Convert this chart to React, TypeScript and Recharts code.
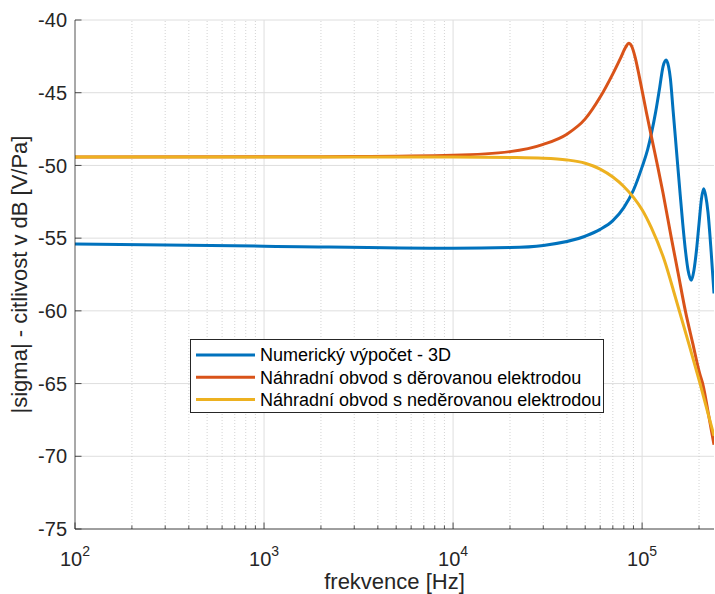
import { CartesianGrid, Legend, Line, LineChart, ReferenceLine, XAxis, YAxis } from 'recharts';

const FONT = '"Liberation Sans", Arial, Helvetica, sans-serif';
const AXIS = '#262626';
const GRID = '#dedede';
const MINOR_GRID = '#c8c8c8';

// osa x: frekvence [Hz], logaritmicky
const X_DOMAIN = [100, 240000];
const MAJOR_TICKS = [100, 1000, 10000, 100000];
const MINOR_TICKS = [
  200, 300, 400, 500, 600, 700, 800, 900,
  2000, 3000, 4000, 5000, 6000, 7000, 8000, 9000,
  20000, 30000, 40000, 50000, 60000, 70000, 80000, 90000,
  200000,
];
const Y_TICKS = [-75, -70, -65, -60, -55, -50, -45, -40];

// Numerický výpočet - 3D
const NUM_F = [
  100, 1000, 10000, 20000, 30000, 50000, 60000, 70000, 80000, 90000, 100000,
  107000, 112000, 118000, 124000, 129000, 134000, 138000, 141000, 146000, 152000,
  158000, 164000, 170000, 175000, 182000, 188000, 194000, 200000, 206000, 211500,
  217000, 223000, 232000, 240000,
];
const NUM_DB = [
  -55.41, -55.55, -55.7, -55.65, -55.5, -54.87, -54.4, -53.8, -52.9, -51.7, -50.1,
  -48.9, -47.8, -46.3, -44.6, -43.2, -42.75, -43.2, -44.0, -46.3, -49.0,
  -51.6, -54.0, -56.0, -57.2, -57.9, -57.2, -55.8, -54.0, -52.3, -51.6,
  -52.1, -53.2, -56.0, -58.8,
];

// Náhradní obvod s děrovanou elektrodou
const PERF_F = [
  100, 1000, 3000, 10000, 20000, 30000, 40000, 50000, 60000, 70000, 77000, 82000,
  85000, 88000, 92000, 97000, 105500, 114000, 121000, 129000, 142800, 155000,
  169300, 185000, 201500, 210000, 225000, 240000,
];
const PERF_DB = [
  -49.42, -49.41, -49.39, -49.3, -49.05, -48.55, -47.85, -46.8, -45.3, -43.7, -42.6, -41.85,
  -41.6, -41.8, -42.6, -44.0, -46.4, -48.5, -50.1, -51.9, -55.0, -57.4,
  -60.0, -62.2, -64.3, -65.1, -67.2, -69.2,
];

// Náhradní obvod s neděrovanou elektrodou
const SOLID_F = [
  100, 1000, 10000, 20000, 30000, 40000, 50000, 60000, 70000, 80000, 90000, 100000,
  112000, 131000, 151000, 177000, 202000, 240000,
];
const SOLID_DB = [
  -49.42, -49.42, -49.42, -49.45, -49.5, -49.62, -49.85, -50.25, -50.8, -51.45, -52.2, -53.05,
  -54.3, -56.5, -59.2, -62.3, -64.95, -68.6,
];

const toPoints = (f: number[], db: number[]) => f.map((v, i) => ({ f: v, db: db[i] }));

const SERIES = [
  { name: 'Numerický výpočet - 3D', color: '#0072BD', data: toPoints(NUM_F, NUM_DB) },
  { name: 'Náhradní obvod s děrovanou elektrodou', color: '#D95319', data: toPoints(PERF_F, PERF_DB) },
  { name: 'Náhradní obvod s neděrovanou elektrodou', color: '#EDB120', data: toPoints(SOLID_F, SOLID_DB) },
];

const isDecade = (v: number) => {
  const e = Math.log10(v);
  return Math.abs(e - Math.round(e)) < 1e-9;
};

function BottomTick({ x, y, payload }: any) {
  const v = payload.value as number;
  const major = isDecade(v);
  return (
    <g>
      <line x1={x} x2={x} y1={y} y2={y - (major ? 6.5 : 3.5)} stroke={AXIS} strokeWidth={0.8} />
      {major && (
        <text x={x} y={y + 37} textAnchor="middle" fontSize={20} fill={AXIS} fontFamily={FONT}>
          10<tspan dy={-10} fontSize={14}>{Math.round(Math.log10(v))}</tspan>
        </text>
      )}
    </g>
  );
}

function TopTick({ x, y, payload }: any) {
  const major = isDecade(payload.value);
  return <line x1={x} x2={x} y1={y} y2={y + (major ? 6.5 : 3.5)} stroke={AXIS} strokeWidth={0.8} />;
}

function LeftTick({ x, y, payload }: any) {
  return (
    <g>
      <line x1={x} x2={x + 6.5} y1={y} y2={y} stroke={AXIS} strokeWidth={0.8} />
      <text x={x - 8} y={y} dy="0.36em" textAnchor="end" fontSize={20} fill={AXIS} fontFamily={FONT}>
        {payload.value}
      </text>
    </g>
  );
}

function RightTick({ x, y }: any) {
  return <line x1={x} x2={x - 6.5} y1={y} y2={y} stroke={AXIS} strokeWidth={0.8} />;
}

function LegendBox() {
  return (
    <svg width={414} height={74} style={{ display: 'block' }}>
      <rect x={0.5} y={0.5} width={413} height={73} fill="#fff" stroke={AXIS} strokeWidth={1} />
      {SERIES.map((s, i) => {
        const cy = 16 + 22.3 * i;
        return (
          <g key={s.name}>
            <line x1={6} x2={65} y1={cy} y2={cy} stroke={s.color} strokeWidth={3} />
            <text x={70} y={cy} dy="0.36em" fontSize={18} fill="#000" fontFamily={FONT}>
              {s.name}
            </text>
          </g>
        );
      })}
    </svg>
  );
}

export default function App() {
  return (
    <div style={{ position: 'absolute', left: 0, top: 0, fontFamily: FONT, background: '#fff' }}>
      <LineChart width={715} height={594} margin={{ top: 20, right: 1, bottom: 0, left: 0 }}>
        <CartesianGrid vertical={false} stroke={GRID} strokeWidth={1} />
        {MINOR_TICKS.map((v) => (
          <ReferenceLine key={`m${v}`} x={v} stroke={MINOR_GRID} strokeWidth={0.8} strokeDasharray="1 2" />
        ))}
        {MAJOR_TICKS.slice(1).map((v) => (
          <ReferenceLine key={`M${v}`} x={v} stroke={GRID} strokeWidth={1} />
        ))}
        <XAxis
          dataKey="f"
          type="number"
          scale="log"
          domain={X_DOMAIN}
          allowDataOverflow
          ticks={[...MAJOR_TICKS, ...MINOR_TICKS].sort((a, b) => a - b)}
          interval={0}
          height={65}
          tickSize={0}
          tickMargin={0}
          tickLine={false}
          tick={(p: any) => <BottomTick {...p} />}
          axisLine={{ stroke: AXIS, strokeWidth: 0.8 }}
          label={(p: any) => {
            const vb = p.viewBox;
            return (
              <text x={vb.x + vb.width / 2} y={589} textAnchor="middle" fontSize={22} fill={AXIS} fontFamily={FONT}>
                frekvence [Hz]
              </text>
            );
          }}
        />
        <XAxis
          xAxisId="top"
          orientation="top"
          type="number"
          scale="log"
          domain={X_DOMAIN}
          allowDataOverflow
          ticks={[...MAJOR_TICKS, ...MINOR_TICKS].sort((a, b) => a - b)}
          interval={0}
          height={0}
          tickSize={0}
          tickMargin={0}
          tickLine={false}
          tick={(p: any) => <TopTick {...p} />}
          axisLine={{ stroke: AXIS, strokeWidth: 0.8 }}
        />
        <YAxis
          type="number"
          domain={[-75, -40]}
          ticks={Y_TICKS}
          interval={0}
          width={75}
          tickSize={0}
          tickMargin={0}
          tickLine={false}
          tick={(p: any) => <LeftTick {...p} />}
          axisLine={{ stroke: AXIS, strokeWidth: 0.8 }}
          label={(p: any) => {
            const vb = p.viewBox;
            const cy = vb.y + vb.height / 2;
            return (
              <text
                x={27}
                y={cy}
                transform={`rotate(-90, 27, ${cy})`}
                textAnchor="middle"
                fontSize={22}
                fill={AXIS}
                fontFamily={FONT}
              >
                |sigma| - citlivost v dB [V/Pa]
              </text>
            );
          }}
        />
        <YAxis
          yAxisId="right"
          orientation="right"
          type="number"
          domain={[-75, -40]}
          ticks={Y_TICKS}
          interval={0}
          width={0}
          tickSize={0}
          tickMargin={0}
          tickLine={false}
          tick={(p: any) => <RightTick {...p} />}
          axisLine={{ stroke: AXIS, strokeWidth: 0.8 }}
        />
        {SERIES.map((s) => (
          <Line
            key={s.name}
            data={s.data}
            dataKey="db"
            name={s.name}
            type="monotoneX"
            stroke={s.color}
            strokeWidth={3}
            dot={false}
            activeDot={false}
            isAnimationActive={false}
          />
        ))}
        <Legend
          layout="horizontal"
          verticalAlign="middle"
          align="center"
          wrapperStyle={{ left: 190, top: 339, width: 414, height: 74 }}
          content={() => <LegendBox />}
        />
      </LineChart>
    </div>
  );
}
